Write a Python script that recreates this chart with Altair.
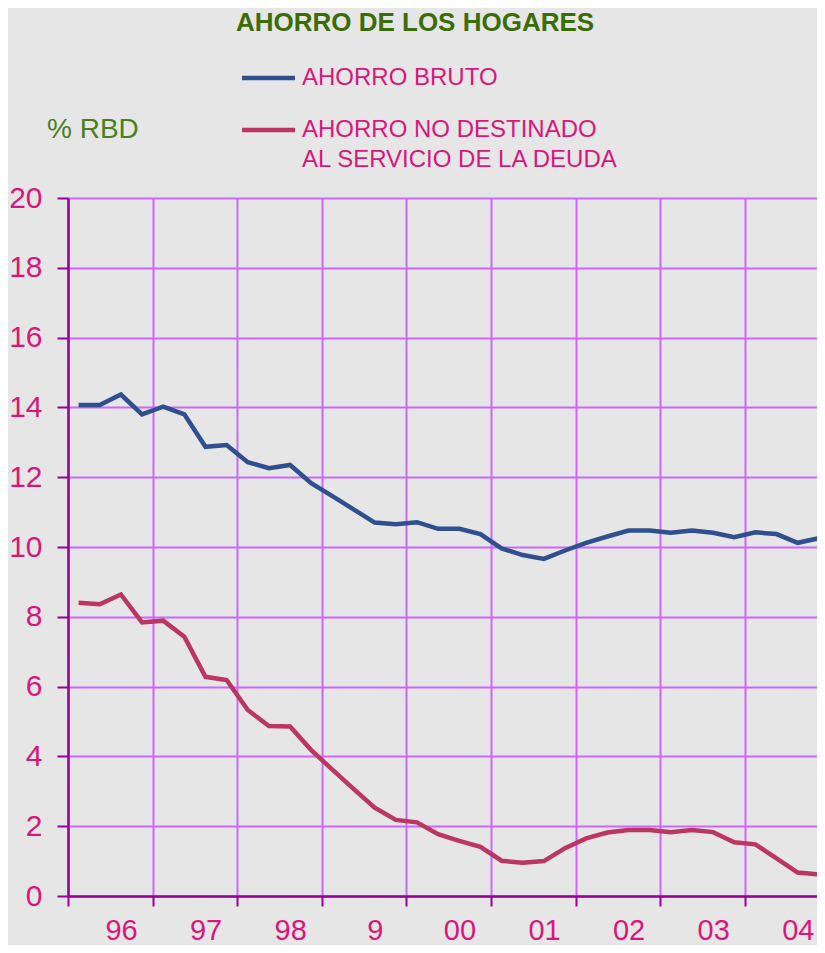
import altair as alt
import pandas as pd

# ---------------- data ----------------
title_text = "AHORRO DE LOS HOGARES"
unit_text = "% RBD"
serie_bruto = "AHORRO BRUTO"
serie_neto = "AHORRO NO DESTINADO"
serie_neto_label = "AHORRO NO DESTINADO\nAL SERVICIO DE LA DEUDA"

years = [1996, 1997, 1998, 1999, 2000, 2001, 2002, 2003, 2004]
year_labels = ["96", "97", "98", "9", "00", "01", "02", "03", "04"]
quarters = [f"{y}T{q}" for y in years for q in (1, 2, 3, 4)]

ahorro_bruto = [
    14.07, 14.07, 14.37, 13.80, 14.02, 13.80, 12.87, 12.92, 12.43, 12.26,
    12.35, 11.83, 11.46, 11.08, 10.70, 10.65, 10.71, 10.52, 10.52, 10.37,
    9.96, 9.77, 9.66, 9.90, 10.12, 10.30, 10.47, 10.47, 10.41, 10.47,
    10.41, 10.28, 10.42, 10.37, 10.12, 10.25,
]
ahorro_no_destinado = [
    8.40, 8.36, 8.64, 7.84, 7.89, 7.43, 6.28, 6.19, 5.33, 4.87,
    4.86, 4.18, 3.62, 3.07, 2.53, 2.18, 2.11, 1.77, 1.58, 1.41,
    1.01, 0.95, 1.00, 1.37, 1.65, 1.82, 1.89, 1.89, 1.83, 1.89,
    1.83, 1.54, 1.48, 1.08, 0.67, 0.62,
]
y_ticks = [0, 2, 4, 6, 8, 10, 12, 14, 16, 18, 20]

# ---------------- build table ----------------
rows = []
for i, q in enumerate(quarters):
    rows.append({"idx": i, "periodo": q, "serie": serie_bruto, "valor": ahorro_bruto[i]})
for i, q in enumerate(quarters):
    rows.append({"idx": i, "periodo": q, "serie": serie_neto, "valor": ahorro_no_destinado[i]})
df = pd.DataFrame(rows)

# year boundaries (gridlines) sit half a quarter before each year's Q1
year_bounds = [quarters.index(f"{y}T1") - 0.5 for y in years]

BLUE = "#2f4f8f"
RED = "#bb3660"
MAGENTA = "#d9177a"
GREEN = "#3b6d06"
GRID = "#cc66ff"
AXIS = "#990099"
FONT = "Liberation Sans"

label_expr = (
    "[" + ",".join(f"'{t}'" for t in year_labels) + "]"
    "[round((datum.value + 0.5) / 4)]"
)

color_scale = alt.Scale(domain=[serie_bruto, serie_neto], range=[BLUE, RED])

W, H = 749, 698
X_MAX = -0.5 + W / 21.15

lines = alt.Chart(df).mark_line(strokeWidth=4.5).encode(
    x=alt.X(
        "idx:Q",
        scale=alt.Scale(domain=[-0.5, X_MAX], nice=False, zero=False),
        axis=alt.Axis(
            values=year_bounds,
            title=None,
            grid=True,
            gridColor=GRID,
            gridWidth=2,
            domainColor=AXIS,
            domainWidth=2.5,
            tickColor=AXIS,
            tickWidth=2,
            tickSize=10,
            labelExpr=label_expr,
            labelOffset=53,
            labelFlush=False,
            labelOverlap=False,
            labelFont=FONT,
            labelFontSize=29,
            labelColor=MAGENTA,
            labelBaseline="alphabetic",
            labelPadding=33,
            labelAngle=0,
        ),
    ),
    y=alt.Y(
        "valor:Q",
        scale=alt.Scale(domain=[0, 20], nice=False),
        axis=alt.Axis(
            values=y_ticks,
            title=None,
            grid=True,
            gridColor=GRID,
            gridWidth=2,
            domainColor=AXIS,
            domainWidth=2.5,
            tickColor=AXIS,
            tickWidth=2,
            tickSize=11,
            labelFont=FONT,
            labelFontSize=30,
            labelColor=MAGENTA,
            labelPadding=15,
            labelFlush=False,
            labelOverlap=False,
        ),
    ),
    color=alt.Color("serie:N", scale=color_scale, legend=None),
)

# ---------------- legend & annotations ----------------
leg_bruto = alt.Chart(pd.DataFrame({"serie": [serie_bruto]})).mark_rule(strokeWidth=4.5).encode(
    x=alt.value(174), x2=alt.value(227), y=alt.value(-120),
    color=alt.Color("serie:N", scale=color_scale, legend=None),
)
leg_neto = alt.Chart(pd.DataFrame({"serie": [serie_neto]})).mark_rule(strokeWidth=4.5).encode(
    x=alt.value(174), x2=alt.value(227), y=alt.value(-68),
    color=alt.Color("serie:N", scale=color_scale, legend=None),
)
txt_bruto = alt.Chart(pd.DataFrame({"t": [serie_bruto]})).mark_text(
    align="left", baseline="middle", font=FONT, fontSize=24, color=MAGENTA
).encode(x=alt.value(234), y=alt.value(-120), text="t:N")
txt_neto = alt.Chart(pd.DataFrame({"t": [serie_neto_label]})).mark_text(
    align="left", baseline="middle", font=FONT, fontSize=24, color=MAGENTA,
    lineBreak="\n", lineHeight=30,
).encode(x=alt.value(234), y=alt.value(-68), text="t:N")
txt_title = alt.Chart(pd.DataFrame({"t": [title_text]})).mark_text(
    align="center", baseline="middle", font=FONT, fontSize=26, fontWeight="bold", color=GREEN
).encode(x=alt.value(347), y=alt.value(-175), text="t:N")
txt_unit = alt.Chart(pd.DataFrame({"t": [unit_text]})).mark_text(
    align="left", baseline="middle", font=FONT, fontSize=28, color="#4a7f1e"
).encode(x=alt.value(-21), y=alt.value(-68), text="t:N")

chart = alt.layer(
    lines, leg_bruto, leg_neto, txt_bruto, txt_neto, txt_title, txt_unit
).properties(
    width=W,
    height=H,
    autosize=alt.AutoSizeParams(type="none"),
    padding={"left": 60, "top": 190, "right": 0, "bottom": 49},
    background="#e6e6e6",
).configure_view(stroke=None)

chart.save("out.html", embed_options={"renderer": "svg", "actions": False})
